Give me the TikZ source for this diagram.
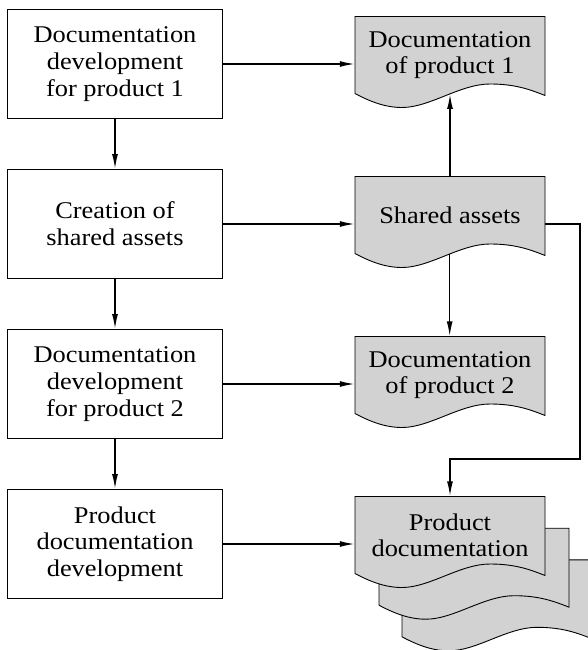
\documentclass[tikz,border=0pt]{standalone}
\usepackage{fontspec}
\setmainfont[FakeStretch=1.1]{Liberation Serif}
\usetikzlibrary{arrows.meta}
\definecolor{docgray}{RGB}{210,210,210}
\tikzset{
  procbox/.style={draw, line width=0.9pt, minimum width=215pt, minimum height=109pt, align=center, inner sep=0pt, font=\fontsize{24}{26.7}\selectfont},
  docfill/.style={draw, line width=0.9pt, fill=docgray},
  doctext/.style={align=center, inner sep=0pt, minimum width=190pt, minimum height=77pt, font=\fontsize{24}{25.8}\selectfont},
  conn/.style={line width=1.6pt, -{Latex[length=15pt,width=6pt]}}
}
\newcommand\docshape[2]{%
  \begin{scope}[shift={#1}]
    \draw[docfill] (0,0) -- (0,77) .. controls (15,85) and (30,91) .. (47,91)
      .. controls (75,91) and (105,67.5) .. coordinate[pos=0.55] (#2) (135,67.5)
      .. controls (160,67.5) and (175,73) .. (190,79) -- (190,0) -- cycle;
  \end{scope}}
\begin{document}
\begin{tikzpicture}[x=1pt,y=-1pt]
\useasboundingbox (0,0) rectangle (588,650);
% left process boxes
\node[procbox] (b1) at (115,64) {Documentation\\development\\for product 1};
\node[procbox] (b2) at (115,224) {Creation of\\shared assets};
\node[procbox] (b3) at (115,384) {Documentation\\development\\for product 2};
\node[procbox] (b4) at (115,544) {Product\\documentation\\development};
% document shapes
\docshape{(355,16.5)}{w1}
\node[doctext] (d1) at (450,55) {Documentation\\of product 1};
\docshape{(355,176.5)}{ws}
\node[doctext] (ds) at (450,215) {Shared assets};
\docshape{(355,336.5)}{w2}
\node[doctext] (d2) at (450,375) {Documentation\\of product 2};
\docshape{(402,559.8)}{wp3}
\docshape{(379,528.2)}{wp2}
\docshape{(355,496.5)}{wp1}
\node[doctext] (dp) at (450,535) {Product\\documentation};
% connectors
\draw[conn] (b1) -- (b2);
\draw[conn] (b2) -- (b3);
\draw[conn] (b3) -- (b4);
\draw[conn] (b1.east) -- (b1.east -| d1.west);
\draw[conn] (b2.east) -- (b2.east -| ds.west);
\draw[conn] (b3.east) -- (b3.east -| d2.west);
\draw[conn] (b4.east) -- (b4.east -| dp.west);
\draw[conn] (ds.north) -- (ds.north |- w1);
\draw[conn] (ws) -- (ws |- d2.north);
\coordinate (bend) at (580,459);
\draw[conn] (b2.east -| ds.east) -| (bend) -| (dp.north);
\end{tikzpicture}
\end{document}
